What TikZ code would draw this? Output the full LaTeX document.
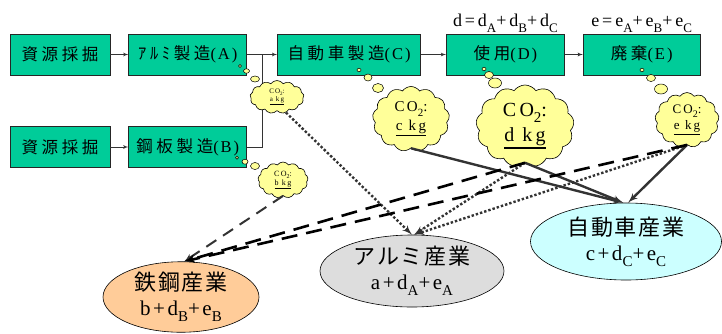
\documentclass[tikz,border=0pt]{standalone}
\usepackage{fontspec}
\setmainfont{Liberation Serif}[LetterSpace=12]
\newfontfamily\wide[LetterSpace=16]{Liberation Serif}
\newfontfamily\jpfont[LetterSpace=22]{Noto Sans CJK JP}
\newfontfamily\jpbig[LetterSpace=8]{Noto Sans CJK JP}
\usetikzlibrary{shapes,arrows,positioning,calc}

\definecolor{procgreen}{HTML}{00CC99}
\definecolor{puffyellow}{HTML}{FFFF99}
\definecolor{steelorange}{HTML}{FFCC99}
\definecolor{alumgray}{HTML}{DDDDDD}
\definecolor{carcyan}{HTML}{CCFFFF}
\definecolor{darkline}{HTML}{333333}

% underline with a rule of given thickness
\newcommand\kgbar[2]{\leavevmode\vtop{\hbox{#2}\kern1pt\hrule height #1}}
% lowered index in a given size
\newcommand\lowsub[2]{\raisebox{-0.3em}{\fontsize{#1}{#1}\selectfont #2}}

\tikzstyle{proc} = [draw=black!85, fill=procgreen, minimum height=41pt, inner sep=0pt, line width=0.8pt, font=\fontsize{16.5}{18}\selectfont]
\tikzstyle{puff} = [cloud, cloud puffs=13, cloud puff arc=110, draw=black, fill=puffyellow, inner sep=0pt, align=center, line width=0.6pt]
\tikzstyle{bubble} = [ellipse, draw=black, fill=puffyellow, inner sep=0pt, line width=0.5pt]
\tikzstyle{industry} = [ellipse, draw=black, inner sep=0pt, align=center, line width=0.6pt, font=\fontsize{21}{25}\selectfont]
\tikzstyle{flow} = [>=latex', ->, color=darkline, line width=0.8pt]
\tikzstyle{tocar} = [>=latex', ->, color=darkline, line width=2.4pt]
\tikzstyle{toalum} = [>=latex', ->, color=darkline, line width=2.4pt, dash pattern=on 2.4pt off 2pt]
\tikzstyle{tosteel} = [>=latex', ->, color=black, line width=2.6pt, dash pattern=on 16pt off 9pt]

\begin{document}
\begin{tikzpicture}[x=1pt, y=-1pt]
    \useasboundingbox (0,0) rectangle (722,333);

    % aluminium / car chain
    \node[proc, minimum width=100pt] (mineA) at (60,54.5) {\jpfont 資源採掘};
    \node[proc, minimum width=118pt] (alum) [right=18pt of mineA] {{\jpfont ｱﾙﾐ製造}(A)};
    \node[proc, minimum width=143pt] (carmake) [right=30pt of alum] {{\jpfont 自動車製造}(C)};
    \node[proc, minimum width=118pt] (use) [right=25pt of carmake] {{\jpfont 使用}(D)};
    \node[proc, minimum width=117pt] (waste) [right=18pt of use] {{\jpfont 廃棄}(E)};

    % steel chain
    \node[proc, minimum width=100pt] (mineB) at (60,147) {\jpfont 資源採掘};
    \node[proc, minimum width=118pt] (steel) [right=18pt of mineB] {{\jpfont 鋼板製造}(B)};

    % sums over the use and waste steps
    \node[above=0pt of use, inner sep=1pt, font=\wide\fontsize{18}{18}\selectfont] (dsum) {d=d\lowsub{13}{A}+d\lowsub{13}{B}+d\lowsub{13}{C}};
    \node[above=0pt of waste, inner sep=1pt, font=\wide\fontsize{18}{18}\selectfont] (esum) {e=e\lowsub{13}{A}+e\lowsub{13}{B}+e\lowsub{13}{C}};

    % process flow
    \coordinate (join) at ($(alum.east)+(15,0)$);
    \draw[flow] (mineA) -- (alum);
    \draw[flow] (mineB) -- (steel);
    \draw[flow] (alum) -- (carmake);
    \draw[darkline, line width=0.8pt] (steel.east) -| (join);
    \draw[flow] (carmake) -- (use);
    \draw[flow] (use) -- (waste);

    % emission bubbles
    \foreach \x/\y/\w/\h [count=\k] in {240/66/3/3, 246.5/71/6/4.5, 255/79/9/6,
                                        237/157.7/3/3, 245/161.7/6/5, 255/166/9/7,
                                        359/70/4/3.5, 368/77.5/8/7, 378/88/11/9,
                                        484/69/4/3.5, 489/75/9/7, 495/83/13/10,
                                        642/70/4/3.5, 651/78/9/7, 661/89/13/10}
      \node[bubble, minimum width=\w pt, minimum height=\h pt] (bub\k) at (\x,\y) {};

    \node[puff, minimum width=54pt, minimum height=33pt, font=\wide\fontsize{7}{8}\selectfont] (ca) at (277,97) {CO\lowsub{5}{2}:\\\kgbar{0.5pt}{a kg}};
    \node[puff, minimum width=50pt, minimum height=36pt, font=\wide\fontsize{8}{9}\selectfont] (cb) at (283,180) {CO\lowsub{6}{2}:\\\kgbar{0.6pt}{b kg}};
    \node[puff, minimum width=77pt, minimum height=65pt, font=\wide\fontsize{15}{19}\selectfont] (cc) at (411,119) {CO\lowsub{11}{2}:\\\kgbar{1.6pt}{c kg}};
    \node[puff, minimum width=98pt, minimum height=82pt, font=\wide\fontsize{20}{25}\selectfont] (cd) at (525,126) {CO\lowsub{15}{2}:\\\kgbar{2.2pt}{d kg}};
    \node[puff, minimum width=64pt, minimum height=55pt, font=\wide\fontsize{13}{16}\selectfont] (ce) at (687,120) {CO\lowsub{10}{2}:\\\kgbar{1.3pt}{e kg}};

    % industries
    \node[industry, fill=steelorange, minimum width=156pt, minimum height=70pt] (steelind) at (181,297)
      {{\jpbig\fontsize{22}{24}\selectfont 鉄鋼産業}\\ b+d\lowsub{15}{B}+e\lowsub{15}{B}};
    \node[industry, fill=alumgray, minimum width=184pt, minimum height=72pt] (alumind) at (412,271)
      {{\jpbig\fontsize{22}{24}\selectfont アルミ産業}\\ a+d\lowsub{15}{A}+e\lowsub{15}{A}};
    \node[industry, fill=carcyan, minimum width=191pt, minimum height=77pt] (carind) at (626,241.5)
      {{\jpbig\fontsize{22}{24}\selectfont 自動車産業}\\ c+d\lowsub{15}{C}+e\lowsub{15}{C}};

    % allocation of emissions
    \draw[toalum] (ca.-60) -- (alumind.north);
    \draw[toalum] (cd.south) -- (alumind.87);
    \draw[toalum] (ce.south) -- (alumind.86);

    \draw[tocar] (cc.south) -- (carind.94);
    \draw[tocar] (cd.south) -- (carind.94);
    \draw[tocar] (ce.south) -- (carind.87);

    \draw[tosteel, color=darkline, line width=2pt, dash pattern=on 12pt off 8pt] (cb.south) -- (steelind.85);
    \draw[tosteel] (cd.south) -- (steelind.85);
    \draw[tosteel] (ce.south) -- (steelind.85);
\end{tikzpicture}
\end{document}
